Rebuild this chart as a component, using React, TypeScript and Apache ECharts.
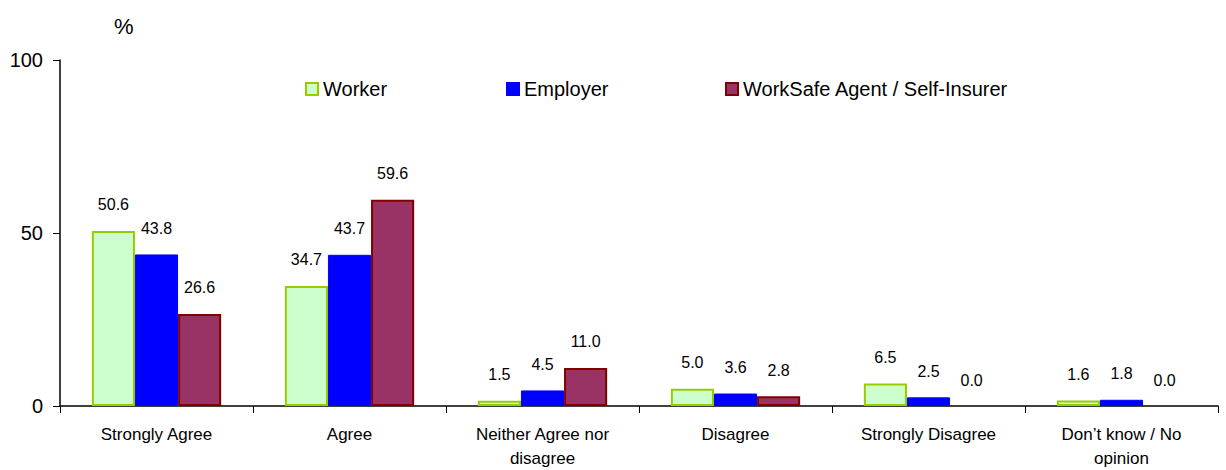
import React, { useEffect, useRef } from "react";
import * as echarts from "echarts";

const categories = [
  "Strongly Agree",
  "Agree",
  "Neither Agree nor\ndisagree",
  "Disagree",
  "Strongly Disagree",
  "Don’t know / No\nopinion",
];
const worker = [50.6, 34.7, 1.5, 5.0, 6.5, 1.6];
const employer = [43.8, 43.7, 4.5, 3.6, 2.5, 1.8];
const agent = [26.6, 59.6, 11.0, 2.8, 0.0, 0.0];
const yTicks = [0, 50, 100];

const FONT = "Liberation Sans, Arial, sans-serif";

const noBorderAtZero = (arr: number[]) =>
  arr.map((v) => (v === 0 ? { value: v, itemStyle: { borderWidth: 0 } } : v));

export default function App() {
  const ref = useRef<HTMLDivElement>(null);
  useEffect(() => {
    if (!ref.current) return;
    const chart = echarts.init(ref.current, undefined, { renderer: "svg" });
    const label = {
      show: true,
      position: "top" as const,
      distance: 18,
      fontSize: 16,
      color: "#000",
      fontFamily: FONT,
      formatter: (p: any) => Number(p.value).toFixed(1),
    };
    const legendText = { fontSize: 20, color: "#000", fontFamily: FONT };
    const legendCommon = { top: 74, itemWidth: 12, itemHeight: 12, itemGap: 6, textStyle: legendText, icon: "rect" };
    chart.setOption({
      animation: false,
      textStyle: { fontFamily: FONT },
      grid: { left: 60, right: 8, top: 60, bottom: 53, containLabel: false },
      legend: [
        { ...legendCommon, data: ["Worker"], left: 300 },
        { ...legendCommon, data: ["Employer"], left: 501 },
        { ...legendCommon, data: ["WorkSafe Agent / Self-Insurer"], left: 720 },
      ],
      graphic: [
        { type: "text", left: 114, top: 15, style: { text: "%", fontSize: 22, fill: "#000", fontFamily: FONT } },
      ],
      xAxis: {
        type: "category",
        data: categories,
        axisLine: { lineStyle: { color: "#000", width: 1.5 } },
        axisTick: { show: true, length: 7, lineStyle: { color: "#000" } },
        axisLabel: { color: "#000", fontSize: 17, margin: 16, lineHeight: 24, interval: 0, fontFamily: FONT },
      },
      yAxis: {
        type: "value",
        min: yTicks[0],
        max: yTicks[yTicks.length - 1],
        interval: 50,
        axisLine: { show: true, lineStyle: { color: "#000", width: 1.5 } },
        axisTick: { show: true, length: 7, lineStyle: { color: "#000" } },
        splitLine: { show: false },
        axisLabel: { color: "#000", fontSize: 20, margin: 17, fontFamily: FONT },
      },
      series: [
        {
          name: "Worker",
          type: "bar",
          data: noBorderAtZero(worker),
          barGap: "0%",
          barCategoryGap: "33%",
          itemStyle: { color: "#ccffcc", borderColor: "#99cc00", borderWidth: 2 },
          label,
        },
        {
          name: "Employer",
          type: "bar",
          data: noBorderAtZero(employer),
          itemStyle: { color: "#0000ff", borderColor: "#0000ff", borderWidth: 1 },
          label,
        },
        {
          name: "WorkSafe Agent / Self-Insurer",
          type: "bar",
          data: noBorderAtZero(agent),
          itemStyle: { color: "#993366", borderColor: "#800000", borderWidth: 2 },
          label,
        },
      ],
    });
    return () => chart.dispose();
  }, []);
  return (
    <div
      ref={ref}
      style={{ position: "fixed", left: 0, top: 0, width: 1226, height: 470, background: "#fff" }}
    />
  );
}
